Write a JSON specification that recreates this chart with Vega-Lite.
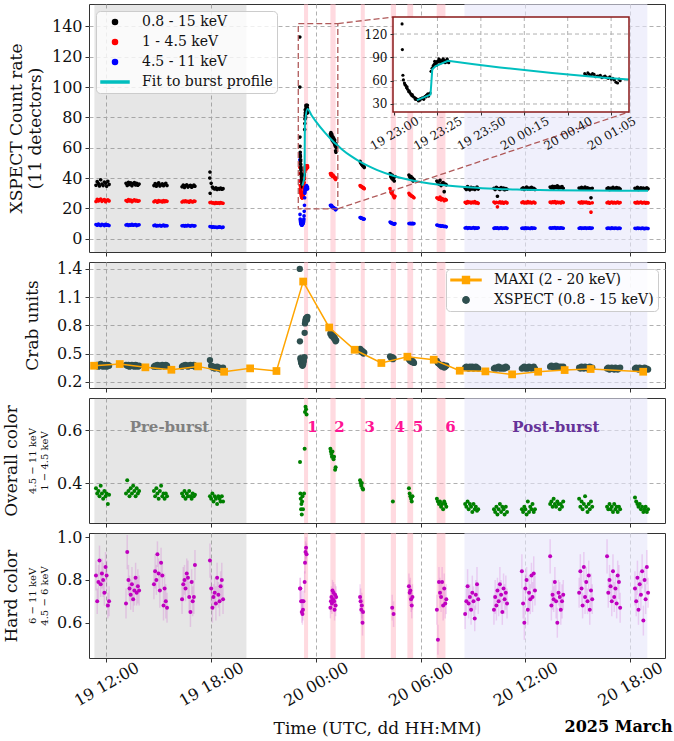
{
"$schema":"https://vega.github.io/schema/vega-lite/v6.json",
"padding":{"left":2,"top":3,"right":5,"bottom":4},
"background":"white",
"title":{"text":"2025 March","orient":"bottom","anchor":"end","font":"DejaVu Serif","fontSize":16,"fontWeight":"bold","color":"#000","offset":-18,"dx":7,"frame":"bounds"},
"spacing":10,
"bounds":"flush",
"resolve":{"scale":{"color":"independent","fill":"independent","shape":"independent","size":"independent"},"legend":{"color":"independent","fill":"independent","shape":"independent","size":"independent"}},
"datasets":{
"reg":[{"x1":11.31,"x2":20.02,"k":"pre"},{"x1":32.51,"x2":42.99,"k":"post"},{"x1":23.32,"x2":23.55,"k":"burst"},{"x1":24.83,"x2":25.13,"k":"burst"},{"x1":26.57,"x2":26.8,"k":"burst"},{"x1":28.29,"x2":28.59,"k":"burst"},{"x1":29.24,"x2":29.57,"k":"burst"},{"x1":30.92,"x2":31.42,"k":"burst"}],
"ann":[{"t":15.61,"y":0.613,"s":"Pre-burst","k":"pre"},{"t":37.75,"y":0.613,"s":"Post-burst","k":"post"},{"t":23.8,"y":0.613,"s":"1","k":"n"},{"t":25.35,"y":0.613,"s":"2","k":"n"},{"t":27.08,"y":0.613,"s":"3","k":"n"},{"t":28.8,"y":0.613,"s":"4","k":"n"},{"t":29.85,"y":0.613,"s":"5","k":"n"},{"t":31.71,"y":0.613,"s":"6","k":"n"}],
"igx":[{"g":23.41667},{"g":23.83333},{"g":24.25},{"g":24.66667},{"g":25.08333}],
"igy":[{"g":30},{"g":60},{"g":90},{"g":120}],
"maxi":[{"t":11.29,"v":0.37},{"t":12.76,"v":0.388},{"t":14.23,"v":0.353},{"t":15.72,"v":0.327},{"t":17.25,"v":0.363},{"t":18.74,"v":0.306},{"t":20.23,"v":0.342},{"t":21.74,"v":0.314},{"t":23.27,"v":1.266},{"t":24.76,"v":0.777},{"t":26.22,"v":0.54},{"t":27.75,"v":0.399},{"t":29.24,"v":0.466},{"t":30.75,"v":0.434},{"t":32.24,"v":0.317},{"t":33.71,"v":0.31},{"t":35.24,"v":0.278},{"t":36.73,"v":0.306},{"t":38.25,"v":0.324},{"t":39.74,"v":0.335},{"t":42.75,"v":0.306}],
"fit":[{"t":23.22,"v":35},{"t":23.35,"v":42},{"t":23.367,"v":74.6},{"t":23.4,"v":78.8},{"t":23.517,"v":85.5},{"t":23.767,"v":81.1},{"t":24.017,"v":77.0},{"t":24.517,"v":69.9},{"t":25.017,"v":63.8},{"t":25.255,"v":61.4},{"t":25.517,"v":58.7},{"t":26.017,"v":54.4},{"t":26.517,"v":50.8},{"t":27.017,"v":47.8},{"t":27.517,"v":45.2},{"t":28.517,"v":41.2},{"t":29.517,"v":38.4},{"t":30.517,"v":36.4},{"t":31.517,"v":35.0},{"t":32.517,"v":34.0},{"t":33.517,"v":33.3},{"t":35.517,"v":32.4},{"t":37.517,"v":31.95},{"t":39.517,"v":31.7},{"t":41.517,"v":31.6},{"t":43.03,"v":31.57}],
"d":[
{"t":11.40,"a":35.2,"b":24.5,"c":9.3,"cr":0.37,"oc":0.38,"hc":0.82,"he":0.07},
{"t":11.47,"a":37.6,"b":25.9,"c":8.8,"cr":0.38,"oc":0.36,"hc":0.70,"he":0.06},
{"t":11.54,"a":36.4,"b":24.8,"c":9.6,"cr":0.36,"oc":0.37,"hc":0.79,"he":0.08},
{"t":11.60,"a":34.8,"b":25.6,"c":9.0,"cr":0.38,"oc":0.35,"hc":0.89,"he":0.07},
{"t":11.67,"a":38.9,"b":26.1,"c":8.7,"cr":0.39,"oc":0.39,"hc":0.78,"he":0.06},
{"t":11.74,"a":36.1,"b":24.6,"c":9.5,"cr":0.37,"oc":0.36,"hc":0.83,"he":0.07},
{"t":11.81,"a":35.0,"b":25.3,"c":9.2,"cr":0.36,"oc":0.34,"hc":0.80,"he":0.08},
{"t":11.88,"a":37.3,"b":25.8,"c":8.6,"cr":0.38,"oc":0.37,"hc":0.74,"he":0.06},
{"t":11.95,"a":36.6,"b":24.3,"c":9.4,"cr":0.37,"oc":0.35,"hc":0.86,"he":0.07},
{"t":12.01,"a":34.6,"b":25.2,"c":8.9,"cr":0.36,"oc":0.36,"hc":0.82,"he":0.07},
{"t":12.08,"a":37.9,"b":25.7,"c":9.1,"cr":0.38,"oc":0.32,"hc":0.68,"he":0.06},
{"t":12.15,"a":35.8,"b":24.9,"c":8.7,"cr":0.37,"oc":0.355,"hc":0.70,"he":0.07},
{"t":13.12,"a":36.5,"b":25.2,"c":9.0,"cr":0.38,"oc":0.36,"hc":0.69,"he":0.07},
{"t":13.19,"a":35.1,"b":24.6,"c":9.3,"cr":0.37,"oc":0.41,"hc":0.93,"he":0.08},
{"t":13.26,"a":37.2,"b":25.8,"c":8.7,"cr":0.38,"oc":0.37,"hc":0.80,"he":0.07},
{"t":13.32,"a":35.8,"b":24.9,"c":9.2,"cr":0.36,"oc":0.35,"hc":0.76,"he":0.06},
{"t":13.39,"a":36.9,"b":25.5,"c":8.9,"cr":0.37,"oc":0.38,"hc":0.73,"he":0.07},
{"t":13.46,"a":34.9,"b":24.4,"c":9.4,"cr":0.38,"oc":0.36,"hc":0.78,"he":0.08},
{"t":13.53,"a":36.3,"b":25.1,"c":8.8,"cr":0.37,"oc":0.39,"hc":0.71,"he":0.06},
{"t":13.60,"a":37.0,"b":25.7,"c":9.1,"cr":0.36,"oc":0.37,"hc":0.75,"he":0.07},
{"t":13.67,"a":35.4,"b":24.8,"c":9.3,"cr":0.38,"oc":0.35,"hc":0.81,"he":0.07},
{"t":13.73,"a":36.6,"b":25.3,"c":8.6,"cr":0.37,"oc":0.38,"hc":0.74,"he":0.06},
{"t":13.80,"a":35.2,"b":24.7,"c":9.0,"cr":0.36,"oc":0.36,"hc":0.77,"he":0.08},
{"t":13.87,"a":36.0,"b":25.0,"c":9.2,"cr":0.37,"oc":0.37,"hc":0.75,"he":0.07},
{"t":14.72,"a":35.0,"b":24.3,"c":8.6,"cr":0.36,"oc":0.37,"hc":0.78,"he":0.07},
{"t":14.79,"a":36.4,"b":25.0,"c":8.9,"cr":0.37,"oc":0.35,"hc":0.84,"he":0.08},
{"t":14.86,"a":34.6,"b":24.6,"c":8.4,"cr":0.36,"oc":0.38,"hc":0.80,"he":0.07},
{"t":14.92,"a":35.9,"b":24.1,"c":8.7,"cr":0.38,"oc":0.36,"hc":0.92,"he":0.06},
{"t":14.99,"a":36.8,"b":25.2,"c":8.5,"cr":0.37,"oc":0.34,"hc":0.83,"he":0.07},
{"t":15.06,"a":34.8,"b":24.5,"c":8.8,"cr":0.36,"oc":0.37,"hc":0.75,"he":0.08},
{"t":15.13,"a":35.5,"b":24.8,"c":8.3,"cr":0.37,"oc":0.39,"hc":0.88,"he":0.07},
{"t":15.20,"a":36.2,"b":24.2,"c":8.6,"cr":0.38,"oc":0.35,"hc":0.82,"he":0.06},
{"t":15.27,"a":34.9,"b":25.1,"c":8.9,"cr":0.37,"oc":0.36,"hc":0.68,"he":0.07},
{"t":15.33,"a":35.7,"b":24.4,"c":8.4,"cr":0.36,"oc":0.34,"hc":0.76,"he":0.07},
{"t":15.40,"a":36.5,"b":24.9,"c":8.7,"cr":0.38,"oc":0.36,"hc":0.70,"he":0.08},
{"t":15.47,"a":35.1,"b":24.6,"c":8.5,"cr":0.37,"oc":0.35,"hc":0.67,"he":0.07},
{"t":16.33,"a":34.2,"b":24.2,"c":8.5,"cr":0.36,"oc":0.36,"hc":0.71,"he":0.07},
{"t":16.40,"a":35.3,"b":24.8,"c":8.7,"cr":0.37,"oc":0.35,"hc":0.78,"he":0.08},
{"t":16.47,"a":33.8,"b":24.4,"c":8.3,"cr":0.37,"oc":0.37,"hc":0.80,"he":0.07},
{"t":16.53,"a":34.9,"b":25.0,"c":8.6,"cr":0.38,"oc":0.34,"hc":0.76,"he":0.06},
{"t":16.60,"a":35.6,"b":24.3,"c":8.4,"cr":0.37,"oc":0.36,"hc":0.83,"he":0.07},
{"t":16.67,"a":34.0,"b":24.7,"c":8.8,"cr":0.36,"oc":0.35,"hc":0.81,"he":0.08},
{"t":16.74,"a":34.7,"b":24.1,"c":8.5,"cr":0.37,"oc":0.37,"hc":0.72,"he":0.07},
{"t":16.81,"a":35.2,"b":24.9,"c":8.3,"cr":0.38,"oc":0.35,"hc":0.65,"he":0.07},
{"t":16.88,"a":33.9,"b":24.5,"c":8.6,"cr":0.37,"oc":0.34,"hc":0.79,"he":0.06},
{"t":16.94,"a":34.5,"b":24.2,"c":8.7,"cr":0.37,"oc":0.36,"hc":0.70,"he":0.07},
{"t":17.01,"a":35.4,"b":24.8,"c":8.4,"cr":0.38,"oc":0.35,"hc":0.72,"he":0.08},
{"t":17.07,"a":34.6,"b":24.6,"c":8.5,"cr":0.36,"oc":0.355,"hc":0.87,"he":0.07},
{"t":17.92,"a":40},
{"t":17.93,"a":44.0,"b":23.8,"c":8.0,"cr":0.43,"oc":0.35,"hc":0.89,"he":0.08},
{"t":17.94,"a":30},
{"t":18.00,"a":36.5,"b":24.0,"c":7.8,"cr":0.37,"oc":0.34,"hc":0.76,"he":0.07},
{"t":18.07,"a":34.1,"b":23.5,"c":7.6,"cr":0.35,"oc":0.36,"hc":0.67,"he":0.07},
{"t":18.13,"a":33.2,"b":23.7,"c":7.9,"cr":0.36,"oc":0.33,"hc":0.72,"he":0.06},
{"t":18.20,"a":32.8,"b":23.2,"c":7.5,"cr":0.34,"oc":0.35,"hc":0.74,"he":0.07},
{"t":18.27,"a":33.6,"b":23.9,"c":7.7,"cr":0.35,"oc":0.34,"hc":0.69,"he":0.08},
{"t":18.34,"a":32.5,"b":23.4,"c":7.4,"cr":0.36,"oc":0.32,"hc":0.81,"he":0.07},
{"t":18.41,"a":33.1,"b":23.6,"c":7.6,"cr":0.34,"oc":0.35,"hc":0.73,"he":0.06},
{"t":18.48,"a":32.7,"b":23.3,"c":7.8,"cr":0.35,"oc":0.34,"hc":0.70,"he":0.07},
{"t":18.54,"a":33.4,"b":23.8,"c":7.5,"cr":0.33,"oc":0.33,"hc":0.77,"he":0.07},
{"t":18.61,"a":32.6,"b":23.5,"c":7.3,"cr":0.34,"oc":0.35,"hc":0.80,"he":0.08},
{"t":18.68,"a":33.0,"b":23.4,"c":7.6,"cr":0.35,"oc":0.33,"hc":0.71,"he":0.07},
{"t":23.077,"a":133,"b":50,"c":56,"cr":1.4},
{"t":23.08,"a":100,"b":47,"c":52},
{"t":23.085,"a":67,"b":43,"c":38,"cr":0.63},
{"t":23.09,"a":61,"b":38,"c":16,"oc":0.48,"hc":0.76,"he":0.05},
{"t":23.1,"a":57,"b":35,"c":13},
{"t":23.105,"a":55},
{"t":23.11,"a":54,"b":33,"c":12,"cr":0.45,"oc":0.36,"hc":0.76,"he":0.05},
{"t":23.12,"a":51,"b":32,"c":11},
{"t":23.125,"a":52},
{"t":23.13,"a":49,"b":31,"c":11,"cr":0.43,"oc":0.34},
{"t":23.14,"a":46,"b":30,"c":10},
{"t":23.145,"a":47},
{"t":23.15,"a":45,"b":30,"c":10,"cr":0.41,"oc":0.3,"hc":0.7,"he":0.05},
{"t":23.16,"a":43,"b":29,"c":9.5},
{"t":23.17,"a":41,"b":28,"c":9,"cr":0.4,"oc":0.32},
{"t":23.175,"a":42},
{"t":23.18,"a":40,"b":28,"c":9.5},
{"t":23.19,"a":39,"b":28,"c":9,"cr":0.39,"oc":0.28,"hc":0.65,"he":0.05},
{"t":23.2,"a":38,"b":27,"c":9},
{"t":23.205,"a":36},
{"t":23.21,"a":37,"b":27,"c":9.5,"cr":0.38,"oc":0.33,"hc":0.7,"he":0.05},
{"t":23.22,"a":36,"b":27,"c":9},
{"t":23.23,"a":35,"b":27,"c":10,"cr":0.37,"oc":0.35,"hc":0.64,"he":0.05},
{"t":23.235,"a":34},
{"t":23.24,"a":36,"b":28,"c":10},
{"t":23.25,"a":35,"b":28,"c":10,"cr":0.38},
{"t":23.255,"a":37},
{"t":23.26,"a":37,"b":28,"c":10.5,"oc":0.3,"hc":0.66,"he":0.05},
{"t":23.27,"a":38,"b":29,"c":10},
{"t":23.28,"a":37,"b":29,"c":11,"cr":0.39},
{"t":23.285,"a":36},
{"t":23.29,"a":39,"b":30,"c":11,"hc":0.7,"he":0.05},
{"t":23.3,"a":40,"b":31,"c":12},
{"t":23.305,"a":39},
{"t":23.31,"a":41,"b":33,"c":13,"cr":0.42},
{"t":23.32,"a":42,"b":35,"c":15,"oc":0.36},
{"t":23.325,"a":43},
{"t":23.33,"a":40,"b":37,"c":18},
{"t":23.345,"a":44,"b":40,"c":22,"cr":0.46},
{"t":23.355,"a":72,"b":44,"c":27,"cr":0.72,"oc":0.53,"hc":0.79,"he":0.05},
{"t":23.365,"a":76,"b":45,"c":30},
{"t":23.375,"a":79,"b":46,"c":31,"cr":0.82,"oc":0.67,"hc":0.88,"he":0.05},
{"t":23.385,"a":81,"b":47,"c":32},
{"t":23.39,"a":85},
{"t":23.395,"a":83,"b":47,"c":33,"cr":0.85},
{"t":23.405,"a":82,"b":48,"c":33,"oc":0.69,"hc":0.93,"he":0.05},
{"t":23.41,"a":80},
{"t":23.415,"a":85,"b":47,"c":34},
{"t":23.425,"a":84,"b":48,"c":33,"cr":0.87},
{"t":23.43,"a":88},
{"t":23.435,"a":87,"b":47,"c":34,"oc":0.68,"hc":0.95,"he":0.05},
{"t":23.445,"a":85,"b":48,"c":33},
{"t":23.45,"a":83},
{"t":23.455,"a":86,"b":46,"c":34,"cr":0.88},
{"t":23.465,"a":84,"b":47,"c":35,"oc":0.66,"hc":0.92,"he":0.05},
{"t":23.47,"a":88},
{"t":23.475,"a":87,"b":48,"c":34},
{"t":23.485,"a":85,"b":47,"c":33,"cr":0.86},
{"t":23.49,"a":83},
{"t":23.495,"a":86,"b":48,"c":34},
{"t":23.505,"a":84,"b":47,"c":33},
{"t":23.51,"a":88},
{"t":23.515,"a":86,"b":48,"c":34,"cr":0.89},
{"t":23.525,"a":83,"b":47,"c":33},
{"t":24.83,"a":69,"b":43,"c":22,"cr":0.71,"oc":0.53,"hc":0.67,"he":0.05},
{"t":24.845,"a":67},
{"t":24.86,"a":70,"b":42,"c":21.5,"cr":0.72,"oc":0.52,"hc":0.70,"he":0.05},
{"t":24.875,"a":68},
{"t":24.89,"a":67,"b":43,"c":22,"cr":0.69,"oc":0.51,"hc":0.72,"he":0.05},
{"t":24.905,"a":69},
{"t":24.92,"a":68,"b":42,"c":21,"cr":0.70,"oc":0.50,"hc":0.69,"he":0.05},
{"t":24.935,"a":65},
{"t":24.95,"a":66,"b":41,"c":21,"cr":0.68,"oc":0.52,"hc":0.75,"he":0.05},
{"t":24.965,"a":66},
{"t":24.98,"a":67,"b":42,"c":20.5,"cr":0.69,"oc":0.50,"hc":0.71,"he":0.05},
{"t":24.995,"a":64},
{"t":25.01,"a":65,"b":41,"c":20.5,"cr":0.67,"oc":0.49,"hc":0.74,"he":0.05},
{"t":25.025,"a":66},
{"t":25.04,"a":64,"b":41,"c":20,"cr":0.66,"oc":0.50,"hc":0.70,"he":0.05},
{"t":25.055,"a":63},
{"t":25.07,"a":65,"b":40,"c":20,"cr":0.67,"hc":0.66,"he":0.05},
{"t":25.085,"a":62},
{"t":25.1,"a":63,"b":40,"c":19.5,"cr":0.65,"oc":0.45,"hc":0.73,"he":0.05},
{"t":25.115,"a":61},
{"t":25.13,"a":58,"b":39,"c":19,"cr":0.63,"oc":0.46,"hc":0.68,"he":0.05},
{"t":25.145,"a":57},
{"t":25.16,"a":62,"b":40,"c":19.5,"cr":0.64,"hc":0.72,"he":0.05},
{"t":25.17,"a":60},
{"t":26.53,"a":51,"b":35,"c":14,"cr":0.55,"oc":0.41,"hc":0.72,"he":0.06},
{"t":26.56,"a":50,"b":34.5,"c":14,"cr":0.54,"oc":0.40,"hc":0.70,"he":0.06},
{"t":26.6,"a":49.5,"b":34.5,"c":13.5,"cr":0.52,"oc":0.39,"hc":0.66,"he":0.06},
{"t":26.63,"a":49,"b":34,"c":13.5,"cr":0.53,"oc":0.40,"hc":0.68,"he":0.06},
{"t":26.67,"a":48.5,"b":34,"c":13.5,"cr":0.51,"oc":0.38,"hc":0.60,"he":0.06},
{"t":26.7,"a":48,"b":33.5,"c":13,"cr":0.52,"oc":0.375,"hc":0.65,"he":0.06},
{"t":26.73,"a":48,"b":33.5,"c":13,"cr":0.50},
{"t":26.77,"a":47,"b":33,"c":13,"cr":0.51},
{"t":28.25,"a":43,"b":33,"c":11,"cr":0.47},
{"t":28.29,"a":41,"b":31,"c":10.5,"cr":0.46},
{"t":28.33,"a":40,"b":30,"c":10.5,"cr":0.45},
{"t":28.37,"a":42,"b":31,"c":10,"cr":0.46,"hc":0.67,"he":0.06},
{"t":28.41,"a":39,"b":29,"c":10,"cr":0.44,"oc":0.33},
{"t":28.45,"a":40,"b":28,"c":9.8,"cr":0.45,"hc":0.64,"he":0.06},
{"t":28.49,"a":38,"b":27,"c":9.5},
{"t":28.53,"a":41,"b":28,"c":10},
{"t":29.33,"a":42,"b":30,"c":10,"cr":0.44,"oc":0.38,"hc":0.77,"he":0.06},
{"t":29.37,"a":41,"b":29,"c":10,"cr":0.43,"oc":0.36,"hc":0.74,"he":0.06},
{"t":29.41,"a":40,"b":29,"c":10.2,"cr":0.42,"oc":0.35,"hc":0.75,"he":0.06},
{"t":29.45,"a":41,"b":28.5,"c":9.8,"cr":0.43,"oc":0.34,"hc":0.71,"he":0.06},
{"t":29.49,"a":39,"b":28,"c":10,"cr":0.41,"oc":0.33,"hc":0.68,"he":0.06},
{"t":29.53,"a":40,"b":28,"c":10.1,"cr":0.42,"oc":0.35,"hc":0.72,"he":0.06},
{"t":29.57,"a":38,"b":27.5,"c":9.9,"cr":0.41},
{"t":29.62,"a":39,"b":27,"c":10,"cr":0.40},
{"t":30.93,"a":38,"b":27,"c":9,"cr":0.42,"oc":0.34,"hc":0.66,"he":0.07},
{"t":30.99,"a":37,"b":26.5,"c":8.8,"cr":0.40,"oc":0.33,"hc":0.52,"he":0.07},
{"t":31.05,"a":36,"b":26,"c":8.5,"cr":0.39,"oc":0.32,"hc":0.79,"he":0.07},
{"t":31.11,"a":38.5,"b":27.5,"c":8.7,"cr":0.38,"oc":0.33,"hc":0.74,"he":0.07},
{"t":31.17,"a":35,"b":25.5,"c":8.2,"cr":0.37,"oc":0.31,"hc":0.72,"he":0.07},
{"t":31.23,"a":36.5,"b":26.5,"c":8.5,"cr":0.36,"oc":0.32,"hc":0.79,"he":0.07},
{"t":31.29,"a":37,"b":26,"c":8.3,"cr":0.38,"oc":0.30,"hc":0.68,"he":0.07},
{"t":31.35,"a":31,"b":25,"c":8,"cr":0.35,"oc":0.33,"hc":0.76,"he":0.07},
{"t":31.41,"a":36,"b":26,"c":8.2,"cr":0.36,"oc":0.32,"hc":0.69,"he":0.07},
{"t":31.47,"a":35.5,"b":25.5,"c":7.8,"cr":0.37,"oc":0.31,"hc":0.71,"he":0.07},
{"t":32.55,"a":33.5,"b":24.0,"c":7.0,"cr":0.35,"oc":0.32,"hc":0.64,"he":0.07},
{"t":32.62,"a":32.4,"b":23.4,"c":7.3,"cr":0.36,"oc":0.31,"hc":0.70,"he":0.06},
{"t":32.69,"a":34.3,"b":24.5,"c":6.8,"cr":0.35,"oc":0.33,"hc":0.77,"he":0.08},
{"t":32.75,"a":33.0,"b":23.8,"c":7.1,"cr":0.34,"oc":0.30,"hc":0.69,"he":0.07},
{"t":32.82,"a":32.2,"b":24.2,"c":7.2,"cr":0.36,"oc":0.32,"hc":0.72,"he":0.06},
{"t":32.89,"a":33.9,"b":23.5,"c":6.9,"cr":0.35,"oc":0.31,"hc":0.66,"he":0.07},
{"t":32.96,"a":32.8,"b":24.1,"c":7.0,"cr":0.36,"oc":0.29,"hc":0.74,"he":0.08},
{"t":33.03,"a":33.6,"b":23.7,"c":7.3,"cr":0.34,"oc":0.32,"hc":0.70,"he":0.07},
{"t":33.10,"a":32.5,"b":24.4,"c":6.8,"cr":0.35,"oc":0.30,"hc":0.62,"he":0.06},
{"t":33.16,"a":33.1,"b":23.6,"c":7.1,"cr":0.36,"oc":0.31,"hc":0.73,"he":0.07},
{"t":33.23,"a":34.0,"b":23.9,"c":6.9,"cr":0.35,"oc":0.295,"hc":0.78,"he":0.08},
{"t":33.30,"a":32.7,"b":23.3,"c":7.2,"cr":0.34,"oc":0.30,"hc":0.71,"he":0.07},
{"t":34.20,"a":33.2,"b":24.2,"c":6.8,"cr":0.34,"oc":0.30,"hc":0.66,"he":0.07},
{"t":34.27,"a":32.5,"b":23.5,"c":7.1,"cr":0.35,"oc":0.29,"hc":0.72,"he":0.08},
{"t":34.34,"a":33.8,"b":24.0,"c":6.9,"cr":0.34,"oc":0.31,"hc":0.68,"he":0.07},
{"t":34.40,"a":28.0,"b":21.0,"c":7.2,"cr":0.35,"oc":0.28,"hc":0.75,"he":0.06},
{"t":34.47,"a":33.0,"b":23.7,"c":6.7,"cr":0.36,"oc":0.30,"hc":0.70,"he":0.07},
{"t":34.54,"a":32.4,"b":24.3,"c":7.0,"cr":0.34,"oc":0.32,"hc":0.78,"he":0.08},
{"t":34.61,"a":33.7,"b":23.6,"c":7.1,"cr":0.35,"oc":0.29,"hc":0.73,"he":0.07},
{"t":34.68,"a":32.9,"b":24.1,"c":6.8,"cr":0.34,"oc":0.31,"hc":0.65,"he":0.06},
{"t":34.75,"a":33.4,"b":23.4,"c":7.0,"cr":0.35,"oc":0.30,"hc":0.76,"he":0.07},
{"t":34.81,"a":32.3,"b":23.9,"c":6.9,"cr":0.34,"oc":0.28,"hc":0.71,"he":0.07},
{"t":34.88,"a":33.1,"b":24.2,"c":7.2,"cr":0.36,"oc":0.31,"hc":0.74,"he":0.08},
{"t":34.95,"a":32.6,"b":23.6,"c":6.8,"cr":0.35,"oc":0.29,"hc":0.69,"he":0.07},
{"t":35.80,"a":32.9,"b":23.8,"c":6.9,"cr":0.34,"oc":0.30,"hc":0.84,"he":0.08},
{"t":35.87,"a":33.6,"b":24.3,"c":7.0,"cr":0.35,"oc":0.29,"hc":0.69,"he":0.07},
{"t":35.94,"a":32.4,"b":23.5,"c":6.7,"cr":0.36,"oc":0.31,"hc":0.60,"he":0.08},
{"t":36.00,"a":33.2,"b":24.0,"c":7.1,"cr":0.34,"oc":0.30,"hc":0.76,"he":0.07},
{"t":36.07,"a":34.0,"b":23.6,"c":6.8,"cr":0.35,"oc":0.28,"hc":0.80,"he":0.06},
{"t":36.14,"a":32.7,"b":24.4,"c":7.0,"cr":0.34,"oc":0.33,"hc":0.66,"he":0.07},
{"t":36.21,"a":33.4,"b":23.7,"c":6.9,"cr":0.36,"oc":0.29,"hc":0.74,"he":0.08},
{"t":36.28,"a":32.6,"b":24.1,"c":6.7,"cr":0.35,"oc":0.31,"hc":0.71,"he":0.07},
{"t":36.35,"a":33.8,"b":23.5,"c":7.1,"cr":0.34,"oc":0.30,"hc":0.82,"he":0.06},
{"t":36.41,"a":32.8,"b":23.9,"c":6.8,"cr":0.35,"oc":0.32,"hc":0.72,"he":0.07},
{"t":36.48,"a":33.3,"b":24.2,"c":7.0,"cr":0.36,"oc":0.29,"hc":0.83,"he":0.08},
{"t":36.55,"a":32.5,"b":23.6,"c":6.9,"cr":0.34,"oc":0.30,"hc":0.75,"he":0.07},
{"t":37.42,"a":34.1,"b":24.1,"c":7.1,"cr":0.36,"oc":0.32,"hc":0.91,"he":0.08},
{"t":37.49,"a":33.5,"b":23.7,"c":6.9,"cr":0.37,"oc":0.33,"hc":0.68,"he":0.07},
{"t":37.56,"a":34.6,"b":24.3,"c":7.2,"cr":0.36,"oc":0.31,"hc":0.73,"he":0.07},
{"t":37.62,"a":33.2,"b":23.9,"c":7.0,"cr":0.35,"oc":0.34,"hc":0.71,"he":0.06},
{"t":37.69,"a":34.3,"b":24.4,"c":7.3,"cr":0.36,"oc":0.32,"hc":0.79,"he":0.07},
{"t":37.76,"a":33.8,"b":23.6,"c":6.8,"cr":0.37,"oc":0.31,"hc":0.70,"he":0.08},
{"t":37.83,"a":34.9,"b":24.2,"c":7.1,"cr":0.35,"oc":0.33,"hc":0.60,"he":0.07},
{"t":37.90,"a":33.4,"b":23.8,"c":7.0,"cr":0.36,"oc":0.32,"hc":0.74,"he":0.06},
{"t":37.97,"a":34.0,"b":24.0,"c":6.9,"cr":0.35,"oc":0.30,"hc":0.72,"he":0.07},
{"t":38.03,"a":33.6,"b":23.5,"c":7.2,"cr":0.36,"oc":0.32,"hc":0.66,"he":0.07},
{"t":38.10,"a":34.4,"b":24.3,"c":7.0,"cr":0.35,"oc":0.31,"hc":0.70,"he":0.08},
{"t":38.17,"a":33.3,"b":23.9,"c":6.9,"cr":0.36,"oc":0.33,"hc":0.73,"he":0.07},
{"t":39.08,"a":33.4,"b":24.0,"c":6.9,"cr":0.35,"oc":0.34,"hc":0.74,"he":0.07},
{"t":39.15,"a":32.8,"b":23.6,"c":7.1,"cr":0.34,"oc":0.31,"hc":0.84,"he":0.08},
{"t":39.22,"a":33.9,"b":24.3,"c":6.8,"cr":0.36,"oc":0.33,"hc":0.76,"he":0.07},
{"t":39.28,"a":32.6,"b":23.5,"c":7.0,"cr":0.35,"oc":0.30,"hc":0.68,"he":0.06},
{"t":39.35,"a":33.2,"b":24.1,"c":6.9,"cr":0.34,"oc":0.32,"hc":0.86,"he":0.07},
{"t":39.42,"a":34.0,"b":23.8,"c":7.2,"cr":0.36,"oc":0.35,"hc":0.72,"he":0.08},
{"t":39.49,"a":32.9,"b":24.2,"c":6.8,"cr":0.35,"oc":0.31,"hc":0.79,"he":0.07},
{"t":39.56,"a":33.5,"b":23.6,"c":7.0,"cr":0.34,"oc":0.29,"hc":0.70,"he":0.06},
{"t":39.63,"a":32.7,"b":23.9,"c":6.9,"cr":0.35,"oc":0.32,"hc":0.82,"he":0.07},
{"t":39.69,"a":33.1,"b":23.4,"c":7.1,"cr":0.36,"oc":0.30,"hc":0.66,"he":0.07},
{"t":39.76,"a":27.0,"b":17.5,"c":6.8,"cr":0.34,"oc":0.33,"hc":0.75,"he":0.08},
{"t":39.83,"a":33.3,"b":23.7,"c":7.0,"cr":0.35,"oc":0.31,"hc":0.71,"he":0.07},
{"t":40.68,"a":33.0,"b":23.7,"c":6.8,"cr":0.34,"oc":0.31,"hc":0.91,"he":0.08},
{"t":40.75,"a":33.6,"b":24.1,"c":7.0,"cr":0.35,"oc":0.30,"hc":0.74,"he":0.07},
{"t":40.82,"a":32.5,"b":23.4,"c":6.9,"cr":0.33,"oc":0.32,"hc":0.80,"he":0.07},
{"t":40.88,"a":33.3,"b":23.9,"c":6.7,"cr":0.34,"oc":0.30,"hc":0.77,"he":0.06},
{"t":40.95,"a":32.8,"b":24.2,"c":7.1,"cr":0.35,"oc":0.31,"hc":0.70,"he":0.07},
{"t":41.02,"a":33.9,"b":23.6,"c":6.9,"cr":0.34,"oc":0.29,"hc":0.84,"he":0.08},
{"t":41.09,"a":32.6,"b":24.0,"c":6.8,"cr":0.33,"oc":0.32,"hc":0.72,"he":0.07},
{"t":41.16,"a":33.2,"b":23.5,"c":7.0,"cr":0.35,"oc":0.30,"hc":0.76,"he":0.06},
{"t":41.23,"a":33.7,"b":23.8,"c":6.9,"cr":0.34,"oc":0.31,"hc":0.69,"he":0.07},
{"t":41.29,"a":32.9,"b":24.1,"c":6.7,"cr":0.33,"oc":0.29,"hc":0.82,"he":0.07},
{"t":41.36,"a":33.4,"b":23.6,"c":7.0,"cr":0.34,"oc":0.31,"hc":0.79,"he":0.08},
{"t":41.43,"a":32.7,"b":23.9,"c":6.8,"cr":0.35,"oc":0.30,"hc":0.67,"he":0.07},
{"t":42.28,"a":33.3,"b":23.8,"c":6.9,"cr":0.34,"oc":0.345,"hc":0.76,"he":0.08},
{"t":42.35,"a":32.7,"b":23.5,"c":6.7,"cr":0.35,"oc":0.33,"hc":0.70,"he":0.07},
{"t":42.42,"a":33.8,"b":24.1,"c":7.0,"cr":0.34,"oc":0.32,"hc":0.81,"he":0.08},
{"t":42.48,"a":32.5,"b":23.6,"c":6.8,"cr":0.33,"oc":0.31,"hc":0.66,"he":0.07},
{"t":42.55,"a":33.1,"b":23.9,"c":6.9,"cr":0.35,"oc":0.32,"hc":0.78,"he":0.06},
{"t":42.62,"a":33.6,"b":24.2,"c":6.7,"cr":0.34,"oc":0.30,"hc":0.73,"he":0.07},
{"t":42.69,"a":32.8,"b":23.5,"c":7.0,"cr":0.33,"oc":0.31,"hc":0.84,"he":0.08},
{"t":42.76,"a":33.4,"b":23.8,"c":6.8,"cr":0.34,"oc":0.29,"hc":0.61,"he":0.07},
{"t":42.83,"a":32.6,"b":24.0,"c":6.6,"cr":0.35,"oc":0.30,"hc":0.80,"he":0.06},
{"t":42.89,"a":33.0,"b":23.4,"c":6.9,"cr":0.33,"oc":0.31,"hc":0.71,"he":0.07},
{"t":42.96,"a":33.5,"b":23.9,"c":6.8,"cr":0.34,"oc":0.29,"hc":0.86,"he":0.08},
{"t":43.03,"a":32.9,"b":23.6,"c":6.7,"cr":0.33,"oc":0.30,"hc":0.74,"he":0.07}
]
},
"vconcat":[
{
"width":576,"height":248,
"layer":[
{"layer":[
{"data":{"name":"reg"},"mark":{"type":"rect"},"encoding":{"x":{"field":"x1","type":"quantitative","scale":{"domain":[11,44],"nice":false,"zero":false},"axis":{"values":[12,18,24,30,36,42],"labels":false,"title":null}},"x2":{"field":"x2"},"fill":{"field":"k","type":"nominal","scale":{"domain":["pre","post","burst"],"range":["rgba(128,128,128,0.2)","rgba(230,230,250,0.6)","rgba(255,182,193,0.5)"]},"legend":null}}},
{"data":{"name":"d"},"transform":[{"fold":["a","b","c"],"as":["s","v"]}],"mark":{"type":"point","filled":true,"opacity":1,"size":400},"encoding":{"x":{"field":"t","type":"quantitative"},"y":{"field":"v","type":"quantitative","scale":{"domain":[-8.8,154.8],"nice":false,"zero":false},"axis":{"values":[0,20,40,60,80,100,120,140],"tickCount":20,"labelOverlap":false,"title":["XSPECT Count rate","(11 detectors)"],"titlePadding":7}},
"color":{"field":"s","type":"nominal","scale":{"domain":["a","b","c","f"],"range":["#000000","#ff0000","#0000ff","#00bfbf"]},"legend":{"orient":"top-left","title":null,"symbolSize":784,"labelExpr":"datum.value=='a'?'0.8 - 15 keV':datum.value=='b'?'1 - 4.5 keV':datum.value=='c'?'4.5 - 11 keV':'Fit to burst profile'"}},
"shape":{"field":"s","type":"nominal","scale":{"domain":["a","b","c","f"],"range":["M0.18,0A0.18,0.18,0,1,1,-0.18,0A0.18,0.18,0,1,1,0.18,0Z","M0.18,0A0.18,0.18,0,1,1,-0.18,0A0.18,0.18,0,1,1,0.18,0Z","M0.18,0A0.18,0.18,0,1,1,-0.18,0A0.18,0.18,0,1,1,0.18,0Z","M-1,-0.075H1V0.075H-1Z"]},"legend":{"orient":"top-left","title":null,"symbolSize":784,"labelExpr":"datum.value=='a'?'0.8 - 15 keV':datum.value=='b'?'1 - 4.5 keV':datum.value=='c'?'4.5 - 11 keV':'Fit to burst profile'"}}}},
{"data":{"name":"fit"},"mark":{"type":"line","strokeWidth":2,"interpolate":"monotone"},"encoding":{"x":{"field":"t","type":"quantitative"},"y":{"field":"v","type":"quantitative"},"color":{"datum":"f","type":"nominal"}}},
{"data":{"values":[{}]},"mark":{"type":"rect","fill":null,"stroke":"#b05a5a","strokeDash":[6,3],"strokeWidth":1.3},"encoding":{"x":{"datum":22.99,"type":"quantitative"},"x2":{"datum":25.255},"y":{"datum":19.7,"type":"quantitative"},"y2":{"datum":141.9}}},
{"data":{"values":[{}]},"mark":{"type":"rule","stroke":"#b05a5a","strokeDash":[6,3],"strokeWidth":1.3},"encoding":{"x":{"datum":25.255,"type":"quantitative"},"x2":{"datum":28.42},"y":{"datum":141.9,"type":"quantitative"},"y2":{"datum":146.2}}},
{"data":{"values":[{}]},"mark":{"type":"rule","stroke":"#b05a5a","strokeDash":[6,3],"strokeWidth":1.3},"encoding":{"x":{"datum":25.255,"type":"quantitative"},"x2":{"datum":41.94},"y":{"datum":19.7,"type":"quantitative"},"y2":{"datum":83.6}}}
]},
{"layer":[
{"data":{"values":[{}]},"mark":{"type":"rect","fill":"white","stroke":null},"encoding":{"x":{"datum":22.99,"type":"quantitative","scale":{"domain":[22.99,25.255],"range":[304,540],"nice":false,"zero":false},"axis":{"orient":"bottom","offset":-140,"zindex":1,"values":[23,23.41667,23.83333,24.25,24.66667,25.08333],"labelExpr":"(datum.value<24?'19 ':'20 ')+timeFormat(datetime(2025,2,1,0,round(datum.value*60)),'%H:%M')","labelAngle":-30,"labelAlign":"center","labelBaseline":"middle","labelPadding":18,"labelFontSize":12,"labelOverlap":false,"grid":false,"title":null,"domain":false,"tickSize":3}},"x2":{"datum":25.255},"y":{"datum":19.7,"type":"quantitative","scale":{"domain":[19.7,141.9],"range":[108,13],"nice":false,"zero":false},"axis":{"orient":"left","offset":-304,"zindex":1,"values":[30,60,90,120],"labelFontSize":12,"labelOverlap":false,"grid":false,"title":null,"domain":false,"tickSize":3}},"y2":{"datum":141.9}}},
{"data":{"name":"igx"},"mark":{"type":"rule","stroke":"#b0b0b0","strokeDash":[4,3]},"encoding":{"x":{"field":"g","type":"quantitative"},"y":{"datum":19.7,"type":"quantitative"},"y2":{"datum":141.9}}},
{"data":{"name":"igy"},"mark":{"type":"rule","stroke":"#b0b0b0","strokeDash":[4,3]},"encoding":{"y":{"field":"g","type":"quantitative"},"x":{"datum":22.99,"type":"quantitative"},"x2":{"datum":25.255}}},
{"data":{"name":"d"},"transform":[{"filter":"isValid(datum.a) && datum.t>=22.99 && datum.t<=25.255"}],"mark":{"type":"point","filled":true,"size":10,"color":"#000000","opacity":1},"encoding":{"x":{"field":"t","type":"quantitative"},"y":{"field":"a","type":"quantitative"}}},
{"data":{"name":"fit"},"transform":[{"filter":"datum.t<=25.255"}],"mark":{"type":"line","strokeWidth":2,"color":"#00bfbf"},"encoding":{"x":{"field":"t","type":"quantitative"},"y":{"field":"v","type":"quantitative"}}},
{"data":{"values":[{}]},"mark":{"type":"rect","fill":null,"stroke":"#8b1a1a","strokeWidth":1.5},"encoding":{"x":{"datum":22.99,"type":"quantitative"},"x2":{"datum":25.255},"y":{"datum":19.7,"type":"quantitative"},"y2":{"datum":141.9}}}
]}
],
"resolve":{"scale":{"x":"independent","y":"independent"},"axis":{"x":"independent","y":"independent"}}
},
{
"width":576,"height":126,
"layer":[
{"data":{"name":"reg"},"mark":{"type":"rect"},"encoding":{"x":{"field":"x1","type":"quantitative","scale":{"domain":[11,44],"nice":false,"zero":false},"axis":{"values":[12,18,24,30,36,42],"labels":false,"title":null}},"x2":{"field":"x2"},"fill":{"field":"k","type":"nominal","scale":{"domain":["pre","post","burst"],"range":["rgba(128,128,128,0.2)","rgba(230,230,250,0.6)","rgba(255,182,193,0.5)"]},"legend":null}}},
{"data":{"name":"d"},"mark":{"type":"point","filled":true,"opacity":1},"encoding":{"x":{"field":"t","type":"quantitative"},"y":{"field":"cr","type":"quantitative","scale":{"domain":[0.133,1.474],"nice":false,"zero":false},"axis":{"values":[0.2,0.5,0.8,1.1,1.4],"tickCount":20,"labelOverlap":false,"format":".1f","title":"Crab units","titlePadding":15}},
"color":{"datum":"XSPECT (0.8 - 15 keV)","type":"nominal","scale":{"domain":["MAXI (2 - 20 keV)","XSPECT (0.8 - 15 keV)"],"range":["#ffa500","#2f4f4f"]},"legend":{"orient":"top-right","title":null}},
"shape":{"datum":"XSPECT (0.8 - 15 keV)","type":"nominal","scale":{"domain":["MAXI (2 - 20 keV)","XSPECT (0.8 - 15 keV)"],"range":["M-1,-0.05H1V0.05H-1ZM-0.23,-0.23H0.23V0.23H-0.23Z","circle"]},"legend":{"orient":"top-right","title":null}},
"size":{"datum":"XSPECT (0.8 - 15 keV)","type":"nominal","scale":{"domain":["MAXI (2 - 20 keV)","XSPECT (0.8 - 15 keV)"],"range":[900,40]},"legend":{"orient":"top-right","title":null}}}},
{"data":{"name":"maxi"},"mark":{"type":"line","strokeWidth":1.5},"encoding":{"x":{"field":"t","type":"quantitative"},"y":{"field":"v","type":"quantitative"},"color":{"datum":"MAXI (2 - 20 keV)","type":"nominal"}}},
{"data":{"name":"maxi"},"mark":{"type":"point","filled":true,"shape":"square","size":60,"opacity":1},"encoding":{"x":{"field":"t","type":"quantitative"},"y":{"field":"v","type":"quantitative"},"color":{"datum":"MAXI (2 - 20 keV)","type":"nominal"}}}
]
},
{
"width":576,"height":125,
"layer":[
{"data":{"name":"reg"},"mark":{"type":"rect"},"encoding":{"x":{"field":"x1","type":"quantitative","scale":{"domain":[11,44],"nice":false,"zero":false},"axis":{"values":[12,18,24,30,36,42],"labels":false,"title":null}},"x2":{"field":"x2"},"fill":{"field":"k","type":"nominal","scale":{"domain":["pre","post","burst"],"range":["rgba(128,128,128,0.2)","rgba(230,230,250,0.6)","rgba(255,182,193,0.5)"]},"legend":null}}},
{"data":{"name":"d"},"mark":{"type":"point","filled":true,"size":16,"opacity":1,"color":"#008000"},"encoding":{"x":{"field":"t","type":"quantitative"},"y":{"field":"oc","type":"quantitative","scale":{"domain":[0.248,0.723],"nice":false,"zero":false},"axis":{"orient":"left","values":[0.4,0.6],"labelOverlap":false,"format":".1f","title":"Overall color","titlePadding":36}}}},
{"data":{"name":"ann"},"mark":{"type":"text","fontWeight":"bold","fontSize":15,"font":"DejaVu Serif"},"encoding":{"x":{"field":"t","type":"quantitative"},"y":{"field":"y","type":"quantitative","scale":{"domain":[0.248,0.723],"nice":false,"zero":false},"axis":{"orient":"left","labels":false,"ticks":false,"grid":false,"domain":false,"title":["4.5 − 11 keV","1 − 4.5 keV"],"titleFontSize":10,"titlePadding":40}},"text":{"field":"s"},"color":{"field":"k","type":"nominal","scale":{"domain":["pre","post","n"],"range":["#808080","#663399","#ff1493"]},"legend":null}}}
],
"resolve":{"scale":{"y":"independent"}}
},
{
"width":576,"height":125,
"layer":[
{"data":{"name":"reg"},"mark":{"type":"rect"},"encoding":{"x":{"field":"x1","type":"quantitative","scale":{"domain":[11,44],"nice":false,"zero":false},"axis":{"values":[12,18,24,30,36,42],"labelExpr":"(datum.value<24?'19 ':'20 ')+timeFormat(datetime(2025,2,1,0,round(datum.value*60)),'%H:%M')","labelAngle":-30,"labelAlign":"center","labelBaseline":"middle","labelPadding":22,"labelOverlap":false,"title":"Time (UTC, dd HH:MM)","titlePadding":12}},"x2":{"field":"x2"},"fill":{"field":"k","type":"nominal","scale":{"domain":["pre","post","burst"],"range":["rgba(128,128,128,0.2)","rgba(230,230,250,0.6)","rgba(255,182,193,0.5)"]},"legend":null}}},
{"data":{"name":"d"},"transform":[{"filter":"isValid(datum.hc)"}],"mark":{"type":"errorbar","color":"#bf00bf","opacity":0.15,"thickness":1.5},"encoding":{"x":{"field":"t","type":"quantitative"},"y":{"field":"hc","type":"quantitative","scale":{"domain":[0.435,1.019],"nice":false,"zero":false},"axis":{"orient":"left","labels":false,"ticks":false,"grid":false,"domain":false,"title":["6 − 11 keV","4.5 − 6 keV"],"titleFontSize":10,"titlePadding":40}},"yError":{"field":"he"}}},
{"data":{"name":"d"},"mark":{"type":"point","filled":true,"size":16,"opacity":1,"color":"#bf00bf"},"encoding":{"x":{"field":"t","type":"quantitative"},"y":{"field":"hc","type":"quantitative","scale":{"domain":[0.435,1.019],"nice":false,"zero":false},"axis":{"orient":"left","values":[0.6,0.8,1.0],"labelOverlap":false,"format":".1f","title":"Hard color","titlePadding":36}}}}
],
"resolve":{"scale":{"y":"independent"}}
}
],
"config":{
"font":"DejaVu Serif",
"view":{"stroke":"#333333","strokeWidth":1},
"axis":{"labelFont":"DejaVu Serif","titleFont":"DejaVu Serif","labelFontSize":16,"titleFontSize":17,"titleFontWeight":"normal","labelColor":"#111111","titleColor":"#111111","grid":true,"gridColor":"#b0b0b0","gridDash":[4,3],"gridWidth":1,"domain":false,"tickColor":"#333333","tickSize":4,"labelPadding":3,"labelFlush":false,"labelOverlap":false,"labelBound":false},
"legend":{"labelFont":"DejaVu Serif","labelFontSize":14,"labelColor":"#111111","fillColor":"rgba(255,255,255,0.8)","strokeColor":"#cccccc","cornerRadius":4,"padding":4,"rowPadding":6,"clipHeight":14,"labelOffset":12,"offset":7}
}
}
